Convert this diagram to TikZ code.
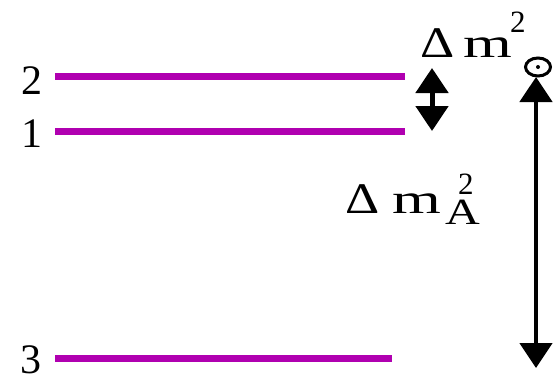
\documentclass[tikz,border=0pt]{standalone}
\usepackage{fontspec}
\usepackage{graphicx}
\setmainfont{Liberation Serif}
\usetikzlibrary{arrows.meta}
\definecolor{lvl}{RGB}{176,0,176}
\begin{document}
\begin{tikzpicture}[x=1pt,y=-1pt,
  level/.style={draw=lvl,line width=7pt},
  big/.style={font=\fontsize{42}{42}\selectfont,inner sep=0pt},
  sym/.style={font=\fontsize{38}{38}\selectfont,inner sep=0pt,anchor=base west},
  sm/.style={font=\fontsize{31}{31}\selectfont,inner sep=0pt,anchor=base west},
  dbl/.style={line width=5pt,{Triangle[width=32pt,length=25pt]}-{Triangle[width=32pt,length=25pt]}}]
\useasboundingbox (0,0) rectangle (554,380);
% levels
\coordinate (l2a) at (55,76); \coordinate (l2b) at (405,76);
\coordinate (l1a) at (55,131); \coordinate (l1b) at (405,131);
\coordinate (l3a) at (55,358); \coordinate (l3b) at (392,358);
\draw[level] (l2a) -- (l2b);
\draw[level] (l1a) -- (l1b);
\draw[level] (l3a) -- (l3b);
\node[big] (n2) at (32,81) {2};
\node[big] (n1) at (32,134) {1};
\node[big] (n3) at (31,360) {3};
% small arrow
\coordinate (s1) at (432,68); \coordinate (s2) at (432,131);
\draw[dbl] (s1) -- (s2);
% big arrow
\coordinate (b1) at (536,77); \coordinate (b2) at (536,368);
\draw[dbl,line width=4.5pt] (b1) -- (b2);
% labels solar
\node[sym] (d1) at (420,57) {\scalebox{1.4}[1.15]{Δ}};
\node[sym] (m1) at (463,57) {\scalebox{1.65}[1.1]{m}};
\node[sm] (t1) at (510,32) {2};
\coordinate (o1) at (538,67);
\draw[line width=3pt] (o1) ellipse [x radius=12.5pt,y radius=9pt];
\fill (o1) circle (2pt);
% labels atmospheric
\node[sym] (d2) at (345,213) {\scalebox{1.4}[1.15]{Δ}};
\node[sym] (m2) at (392,213) {\scalebox{1.65}[1.1]{m}};
\node[sm] (t2) at (458,194) {2};
\node[sm,font=\fontsize{37}{37}\selectfont] (a2) at (445,224) {\scalebox{1.3}[1]{A}};
\end{tikzpicture}
\end{document}
